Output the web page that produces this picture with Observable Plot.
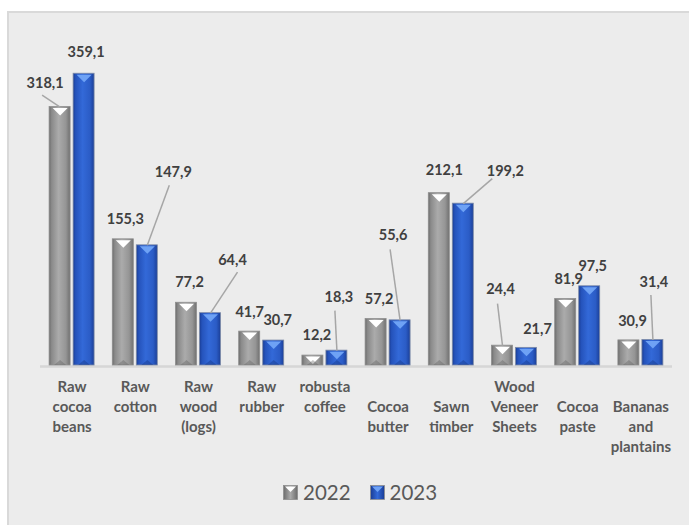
<!DOCTYPE html>
<html>
<head>
<meta charset="utf-8">
<script src="https://cdn.jsdelivr.net/npm/d3@7"></script>
<script src="https://cdn.jsdelivr.net/npm/@observablehq/plot@0.6"></script>
<style>
  html, body { margin: 0; padding: 0; background: #ffffff; overflow: hidden; }
  #wrap { position: relative; width: 689px; height: 525px; }
  #panel { position: absolute; left: 7px; top: 11px; width: 700px; height: 540px;
           background: #ececec; border-left: 2px solid #d9d9d9; border-top: 2px solid #d9d9d9; }
  #chart { position: absolute; left: 0; top: 0; }
  #legend { position: absolute; left: 283px; top: 480px; display: flex; align-items: center;
            font-family: Lato, "DejaVu Sans", sans-serif; font-size: 20.5px; color: #595959; }
  #legend .item { display: flex; align-items: center; margin-right: 19px; }
  #legend svg { margin-right: 5px; }
</style>
</head>
<body>
<div id="wrap">
  <div id="panel"></div>
  <div id="chart"></div>
  <div id="legend"></div>
</div>
<script>
// ---- data ----
const categories = ["Raw cocoa beans", "Raw cotton", "Raw wood (logs)", "Raw rubber", "robusta coffee",
  "Cocoa butter", "Sawn timber", "Wood Veneer Sheets", "Cocoa paste", "Bananas and plantains"];
const tickLabels = ["Raw\ncocoa\nbeans", "Raw\ncotton", "Raw\nwood\n(logs)", "Raw\nrubber", "robusta\ncoffee",
  "\nCocoa\nbutter", "\nSawn\ntimber", "Wood\nVeneer\nSheets", "\nCocoa\npaste", "\nBananas\nand\nplantains"];
const years = ["2022", "2023"];
const values2022 = [318.1, 155.3, 77.2, 41.7, 12.2, 57.2, 212.1, 24.4, 81.9, 30.9];
const values2023 = [359.1, 147.9, 64.4, 30.7, 18.3, 55.6, 199.2, 21.7, 97.5, 31.4];
const labels2022 = ["318,1", "155,3", "77,2", "41,7", "12,2", "57,2", "212,1", "24,4", "81,9", "30,9"];
const labels2023 = ["359,1", "147,9", "64,4", "30,7", "18,3", "55,6", "199,2", "21,7", "97,5", "31,4"];

// ---- layout (pixel offsets of data labels from bar top-centre, leader-line starts) ----
const W = 689, H = 460, ML = 40, MR = 17, MT = 40, MB = 95;
const yMax = 400;
const pxX = (W - ML - MR) / categories.length;   // px per category unit
const pxY = (H - MT - MB) / yMax;                // px per value unit
const barW = 21, barShift = 12;
const labelOffsets = {
  "2022": [[-15,-24],[2,-20],[3,-20],[0,-19],[4,-20],[3,-19.5],[5,-22.5],[-2,-56],[3,-19.5],[3.6,-19]],
  "2023": [[2,-21],[26,-73],[22,-53],[4,-20],[2,-53],[-7,-85],[42,-32],[11,-19],[3,-20],[1,-58]]
};
const leaderStarts = {
  "2022": {0: [-3, 12], 7: [-3, 14]},
  "2023": {1: [-4, 13], 2: [5, 12], 4: [-4, 13], 5: [-3, 14], 6: [-13, 7], 9: [-3, 13]}
};

const series = {"2022": values2022, "2023": values2023};
const labelText = {"2022": labels2022, "2023": labels2023};
const rows = [];
for (const yr of years) {
  series[yr].forEach((v, i) => {
    const c = i + (yr === "2022" ? -barShift : barShift) / pxX;
    const [ldx, ldy] = labelOffsets[yr][i];
    const lx = c + ldx / pxX, ly = v - ldy / pxY;
    const ls = leaderStarts[yr][i];
    rows.push({
      i, year: yr, value: v, center: c,
      x1: c - barW / 2 / pxX, x2: c + barW / 2 / pxX,
      label: labelText[yr][i], lx, ly,
      leader: ls ? {x1: lx + ls[0] / pxX, y1: ly - ls[1] / pxY, x2: c, y2: v} : null
    });
  });
}
const gray = rows.filter(d => d.year === "2022");
const blue = rows.filter(d => d.year === "2023");
const leaders = rows.filter(d => d.leader).map(d => d.leader);

const triDown = { draw(ctx) { ctx.moveTo(-7.5, 0); ctx.lineTo(7.5, 0); ctx.lineTo(0, 7.5); ctx.closePath(); } };
const triUp = { draw(ctx) { ctx.moveTo(-6, 0); ctx.lineTo(6, 0); ctx.lineTo(0, -5); ctx.closePath(); } };

const chart = Plot.plot({
  width: W, height: H,
  marginLeft: ML, marginRight: MR, marginTop: MT, marginBottom: MB,
  style: { background: "transparent", fontFamily: "Lato, 'DejaVu Sans', sans-serif", color: "#595959", overflow: "visible" },
  x: { type: "linear", domain: [-0.5, categories.length - 0.5] },
  y: { domain: [0, yMax], axis: null },
  marks: [
    Plot.ruleY([0], { stroke: "#d6d6d6", strokeWidth: 2.5, dy: 1 }),
    Plot.rectY(gray, { x1: "x1", x2: "x2", y1: 0, y2: "value", fill: "url(#gGray)", stroke: "#8e8e8e", strokeWidth: 0.8 }),
    Plot.rectY(blue, { x1: "x1", x2: "x2", y1: 0, y2: "value", fill: "url(#gBlue)", stroke: "#7d8aa6", strokeWidth: 0.8 }),
    Plot.dot(gray, { x: "center", y: "value", symbol: triDown, r: 5, fill: "#ffffff", stroke: null, dy: 1 }),
    Plot.dot(blue, { x: "center", y: "value", symbol: triDown, r: 5, fill: "#6ea2f5", stroke: null, dy: 1 }),
    Plot.dot(gray, { x: "center", y: 0, symbol: triUp, r: 5, fill: "#5a5a5a", fillOpacity: 0.35, stroke: null, dy: -0.5 }),
    Plot.dot(blue, { x: "center", y: 0, symbol: triUp, r: 5, fill: "#0d2a73", fillOpacity: 0.35, stroke: null, dy: -0.5 }),
    Plot.link(leaders, { x1: "x1", y1: "y1", x2: "x2", y2: "y2", stroke: "#a6a6a6", strokeWidth: 1.5 }),
    Plot.text(rows, { x: "lx", y: "ly", text: "label", fill: "#404040", fontSize: 14.5, fontWeight: "bold" }),
    Plot.axisX(d3.range(categories.length), {
      tickFormat: i => tickLabels[i], tickSize: 0, tickPadding: 12,
      fontSize: 15, fontWeight: "bold", lineHeight: 20 / 15, fill: "#595959"
    })
  ]
});

// gradients for bevelled bars
const defs = d3.select(chart).insert("defs", ":first-child");
function grad(id, stops) {
  const g = defs.append("linearGradient").attr("id", id).attr("x1", 0).attr("x2", 1).attr("y1", 0).attr("y2", 0);
  stops.forEach(([o, c]) => g.append("stop").attr("offset", o).attr("stop-color", c));
}
grad("gGray", [["0%", "#6c6c6c"], ["12%", "#8a8a8a"], ["45%", "#ababab"], ["80%", "#959595"], ["100%", "#707070"]]);
grad("gBlue", [["0%", "#193c94"], ["12%", "#2553bb"], ["45%", "#3369d8"], ["80%", "#2b5cc6"], ["100%", "#1b3f98"]]);

document.getElementById("chart").appendChild(chart);

// legend
const legend = document.getElementById("legend");
const swatch = {
  "2022": { a: "#6c6c6c", b: "#a9a9a9", t: "#ffffff" },
  "2023": { a: "#193c94", b: "#3369d8", t: "#6ea2f5" }
};
years.forEach(yr => {
  const s = swatch[yr];
  const item = document.createElement("div");
  item.className = "item";
  item.innerHTML = `<svg width="15" height="15" viewBox="0 0 15 15">
    <defs><linearGradient id="lg${yr}" x1="0" x2="1"><stop offset="0" stop-color="${s.a}"/><stop offset="0.5" stop-color="${s.b}"/><stop offset="1" stop-color="${s.a}"/></linearGradient></defs>
    <rect x="0.5" y="0.5" width="14" height="14" fill="url(#lg${yr})" stroke="#8e8e8e" stroke-width="0.8"/>
    <path d="M2,1.5 L13,1.5 L7.5,7 Z" fill="${s.t}"/></svg><span>${yr}</span>`;
  legend.appendChild(item);
});
</script>
</body>
</html>
